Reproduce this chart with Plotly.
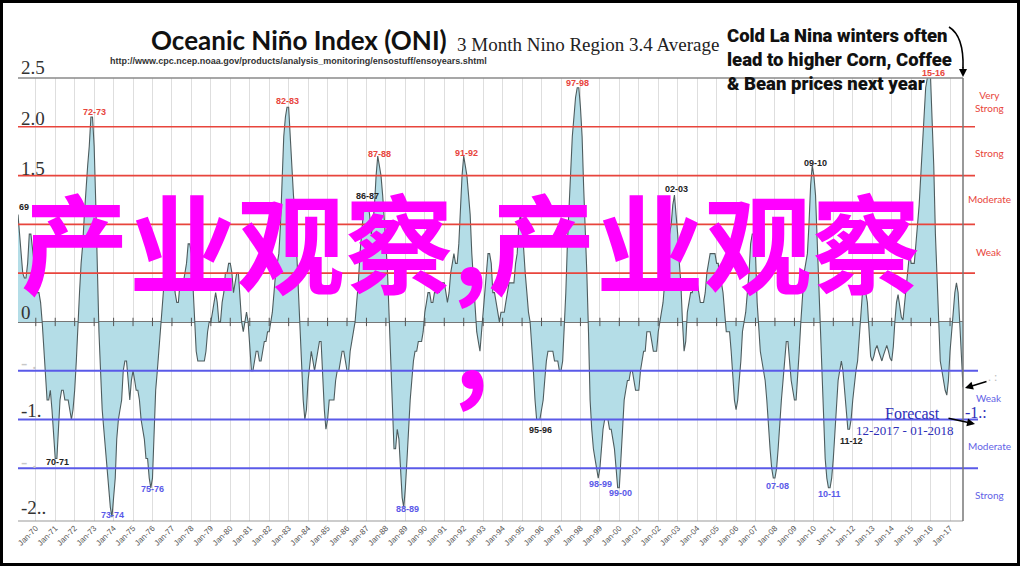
import plotly.graph_objects as go
import pandas as pd

# ---------------- data (ONI, 3-month running mean) ----------------
oni_1969 = [1.1, 0.9, 0.7, 0.5, 0.45, 0.45, 0.6, 0.9, 0.9, 0.75, 0.6]  # Feb..Dec 1969
oni_1970s = [
    0.5, 0.3, 0.3, 0.2, 0.0, -0.3, -0.6, -0.8, -0.8, -0.7, -0.9, -1.1,
    -1.4, -1.4, -1.1, -0.8, -0.7, -0.7, -0.8, -0.8, -0.8, -0.9, -1.0, -0.9,
    -0.7, -0.4, 0.0, 0.3, 0.6, 0.8, 1.1, 1.4, 1.6, 1.8, 2.1, 2.1,
    1.8, 1.2, 0.5, -0.1, -0.5, -0.9, -1.1, -1.3, -1.5, -1.7, -1.9, -2.0,
    -1.8, -1.6, -1.2, -1.0, -0.9, -0.8, -0.5, -0.4, -0.4, -0.6, -0.8, -0.6,
    -0.5, -0.6, -0.7, -0.7, -0.8, -1.0, -1.1, -1.2, -1.4, -1.4, -1.6, -1.7,
    -1.6, -1.2, -0.7, -0.5, -0.3, 0.0, 0.2, 0.4, 0.6, 0.8, 0.9, 0.8,
    0.6, 0.6, 0.3, 0.2, 0.2, 0.4, 0.4, 0.4, 0.5, 0.6, 0.8, 0.8,
    0.7, 0.4, 0.0, -0.3, -0.4, -0.4, -0.4, -0.4, -0.4, -0.3, -0.1, 0.0,
    0.0, 0.1, 0.2, 0.3, 0.2, 0.0, 0.0, 0.2, 0.3, 0.5, 0.5, 0.6,
]
oni_1980s = [
    0.6, 0.5, 0.3, 0.4, 0.5, 0.5, 0.3, 0.0, -0.1, 0.0, 0.1, 0.0,
    -0.3, -0.5, -0.5, -0.4, -0.3, -0.3, -0.4, -0.4, -0.3, -0.2, -0.2, -0.1,
    -0.1, 0.0, 0.1, 0.3, 0.5, 0.6, 0.7, 1.0, 1.5, 1.9, 2.1, 2.2,
    2.2, 1.9, 1.5, 1.3, 1.1, 0.7, 0.3, -0.1, -0.5, -0.8, -1.0, -0.9,
    -0.6, -0.4, -0.3, -0.4, -0.5, -0.4, -0.3, -0.2, -0.2, -0.6, -0.9, -1.1,
    -1.0, -0.8, -0.8, -0.8, -0.8, -0.6, -0.5, -0.5, -0.4, -0.3, -0.3, -0.4,
    -0.5, -0.5, -0.3, -0.2, -0.1, 0.0, 0.2, 0.4, 0.7, 0.9, 1.1, 1.2,
    1.2, 1.2, 1.1, 0.9, 1.0, 1.2, 1.5, 1.7, 1.6, 1.5, 1.3, 1.1,
    0.8, 0.5, 0.1, -0.3, -0.9, -1.3, -1.3, -1.1, -1.2, -1.5, -1.8, -1.9,
    -1.7, -1.4, -1.1, -0.8, -0.6, -0.4, -0.3, -0.3, -0.2, -0.2, -0.2, -0.1,
]
oni_1990s = [
    0.1, 0.2, 0.3, 0.3, 0.2, 0.2, 0.3, 0.3, 0.4, 0.3, 0.4, 0.4,
    0.4, 0.3, 0.2, 0.3, 0.5, 0.6, 0.7, 0.6, 0.6, 0.8, 1.2, 1.5,
    1.7, 1.6, 1.5, 1.3, 1.1, 0.7, 0.4, 0.1, -0.1, -0.2, -0.3, -0.1,
    0.1, 0.3, 0.5, 0.7, 0.7, 0.6, 0.3, 0.3, 0.2, 0.1, 0.0, 0.1,
    0.1, 0.1, 0.2, 0.3, 0.4, 0.4, 0.4, 0.4, 0.6, 0.7, 1.0, 1.1,
    1.0, 0.7, 0.5, 0.3, 0.1, 0.0, -0.2, -0.5, -0.8, -1.0, -1.0, -1.0,
    -0.9, -0.8, -0.6, -0.4, -0.3, -0.3, -0.3, -0.3, -0.4, -0.4, -0.4, -0.5,
    -0.5, -0.4, -0.1, 0.3, 0.8, 1.2, 1.6, 1.9, 2.1, 2.3, 2.4, 2.4,
    2.2, 1.9, 1.4, 1.0, 0.5, -0.1, -0.8, -1.1, -1.3, -1.4, -1.5, -1.6,
    -1.5, -1.3, -1.1, -1.0, -1.0, -1.0, -1.1, -1.1, -1.2, -1.3, -1.5, -1.7,
]
oni_2000s = [
    -1.7, -1.4, -1.1, -0.8, -0.7, -0.6, -0.6, -0.5, -0.5, -0.6, -0.7, -0.7,
    -0.7, -0.5, -0.4, -0.3, -0.3, -0.1, -0.1, -0.1, -0.2, -0.3, -0.3, -0.3,
    -0.1, 0.0, 0.1, 0.2, 0.4, 0.7, 0.8, 0.9, 1.0, 1.2, 1.3, 1.1,
    0.9, 0.6, 0.4, 0.0, -0.3, -0.2, 0.1, 0.2, 0.3, 0.3, 0.4, 0.4,
    0.4, 0.3, 0.2, 0.2, 0.2, 0.3, 0.5, 0.6, 0.7, 0.7, 0.7, 0.7,
    0.6, 0.6, 0.4, 0.4, 0.3, 0.1, -0.1, -0.1, -0.1, -0.3, -0.6, -0.8,
    -0.9, -0.8, -0.6, -0.4, -0.1, 0.0, 0.1, 0.3, 0.5, 0.8, 0.9, 0.9,
    0.7, 0.2, -0.1, -0.3, -0.4, -0.5, -0.6, -0.8, -1.1, -1.3, -1.5, -1.6,
    -1.6, -1.5, -1.3, -1.0, -0.8, -0.6, -0.4, -0.2, -0.2, -0.4, -0.6, -0.7,
    -0.8, -0.8, -0.6, -0.3, 0.0, 0.3, 0.5, 0.6, 0.7, 1.0, 1.4, 1.6,
]
oni_2010s = [
    1.5, 1.3, 0.9, 0.4, -0.1, -0.6, -1.0, -1.4, -1.6, -1.7, -1.7, -1.6,
    -1.4, -1.1, -0.8, -0.6, -0.5, -0.4, -0.5, -0.7, -0.9, -1.1, -1.1, -1.0,
    -0.8, -0.6, -0.5, -0.4, -0.2, 0.1, 0.3, 0.3, 0.3, 0.2, -0.1, -0.35,
    -0.4, -0.35, -0.28, -0.24, -0.3, -0.36, -0.4, -0.34, -0.28, -0.24, -0.3, -0.37,
    -0.4, -0.25, 0.0, 0.2, 0.28, 0.15, 0.05, 0.02, 0.2, 0.4, 0.6, 0.7,
    0.6, 0.6, 0.6, 0.8, 1.0, 1.2, 1.5, 1.8, 2.1, 2.4, 2.5, 2.6,
    2.5, 2.1, 1.6, 0.9, 0.4, -0.1, -0.4, -0.5, -0.6, -0.7, -0.75, -0.6,
    -0.3, -0.1, 0.1, 0.3, 0.4, 0.3, 0.0, -0.35, -0.67,
]
start_month = "1969-02-01"
tick_years = list(range(1970, 2018))
tick_labels = ["Jan-%02d" % (y % 100) for y in tick_years]

strength_levels_pos = [0.5, 1.0, 1.5, 2.0]
strength_levels_neg = [-0.5, -1.0, -1.5]
pos_names = ["Weak", "Moderate", "Strong", "Very<br>Strong"]
neg_names = ["Weak", "Moderate", "Strong"]

events_red = ["72-73", "82-83", "87-88", "91-92", "97-98", "15-16"]
events_black = ["69", "86-87", "02-03", "09-10", "70-71", "95-96", "11-12"]
events_blue = ["73-74", "75-76", "88-89", "98-99", "99-00", "07-08", "10-11"]

# ---------------- figure ----------------
values = oni_1969 + oni_1970s + oni_1980s + oni_1990s + oni_2000s + oni_2010s
dates = pd.date_range(start_month, periods=len(values), freq="MS")
tick_dates = [pd.Timestamp(year=y, month=1, day=1) for y in tick_years]

W, H = 1020, 566
L, R, T, B = 18, 57, 78, 45
PW, PH = W - L - R, H - T - B
YMIN, YMAX = -2.04, 2.5


def P(xp, yp):
    return (xp - L) / PW, 1 - (yp - T) / PH


fig = go.Figure()
fig.add_trace(go.Scatter(
    x=dates, y=values, mode="lines", fill="tozeroy",
    fillcolor="#B4DDE7", line=dict(color="#4e5c5e", width=1.1),
    hoverinfo="skip", showlegend=False,
))
fig.add_trace(go.Scatter(
    x=tick_dates, y=[0] * len(tick_dates), mode="markers",
    marker=dict(symbol="line-ns", size=6, line=dict(color="#555", width=1)),
    hoverinfo="skip", showlegend=False,
))

shapes = []
# white page inside a black image frame (paper background is black)
wx0, wy1 = P(3, 3)
wx1, wy0 = P(W - 3, H - 3)
shapes.append(dict(type="rect", xref="paper", yref="paper", x0=wx0, x1=wx1, y0=wy0, y1=wy1,
                   fillcolor="white", line=dict(width=0), layer="below"))
red_x1 = (975 - L) / PW
blue_x1 = (978 - L) / PW
for v in strength_levels_pos:
    shapes.append(dict(type="line", xref="paper", yref="y", x0=0, x1=red_x1, y0=v, y1=v,
                       line=dict(color="#E8453C", width=1.6), layer="above"))
for v in strength_levels_neg:
    shapes.append(dict(type="line", xref="paper", yref="y", x0=0, x1=blue_x1, y0=v, y1=v,
                       line=dict(color="#5A5AE8", width=2), layer="above"))
# frame of plot
shapes.append(dict(type="line", xref="paper", yref="paper", x0=0, x1=1, y0=1, y1=1,
                   line=dict(color="#8a8a8a", width=1.5)))
shapes.append(dict(type="line", xref="paper", yref="paper", x0=0, x1=1, y0=0, y1=0,
                   line=dict(color="#9a9a9a", width=1.2)))
shapes.append(dict(type="line", xref="paper", yref="paper", x0=1, x1=1, y0=0, y1=1,
                   line=dict(color="#777", width=1.5)))
# curved pointer from the note to the plot corner
cx0, cy0 = P(949, 27)
ccx, ccy = P(964, 36)
cx1, cy1 = P(963, 68)
shapes.append(dict(type="path", xref="paper", yref="paper",
                   path=f"M {cx0} {cy0} Q {ccx} {ccy} {cx1} {cy1}",
                   line=dict(color="black", width=1.6)))

ann = []


def text(xp, yp, s, size, color, family="Liberation Sans", xanchor="center",
         yanchor="middle", weight="normal", align="center"):
    x, y = P(xp, yp)
    ann.append(dict(xref="paper", yref="paper", x=x, y=y, text=s, showarrow=False,
                    xanchor=xanchor, yanchor=yanchor, align=align,
                    font=dict(size=size, color=color, family=family, weight=weight)))


# title block
text(149, 40, "Oceanic Niño Index (ONI)", 26, "#111", family="Lato", xanchor="left", weight="bold")
text(455, 44, "3 Month Nino Region 3.4 Average", 19, "#222", family="Liberation Serif", xanchor="left")
text(108, 61, "http://www.cpc.ncep.noaa.gov/products/analysis_monitoring/ensostuff/ensoyears.shtml",
     9, "#333", xanchor="left", weight="bold")
text(725, 60, "Cold La Nina winters often<br>lead to higher Corn, Coffee<br>& Bean prices next year",
     18.5, "#111", family="Roboto Black, Roboto", xanchor="left", weight=900, align="left")

# y labels (drawn as text above the lines)
for s, yp, col in [("2.5", 68, "#333"), ("2.0", 118, "#333"), ("1.5", 168, "#333"),
                   ("0", 312, "#333"), ("- .", 362, "#c8c8c8"), ("-1.", 410, "#333"),
                   ("- .", 461, "#c8c8c8"), ("-2..", 507, "#333")]:
    text(19, yp, s, 19, col, family="Liberation Serif", xanchor="left")

# strength labels on the right
for s, yp in zip(pos_names, [252, 199, 153, 102]):
    text(989, yp, s, 10, "#E8453C", family="Lato")
for s, yp in zip(neg_names, [398, 446, 495]):
    text(989, yp, s, 10, "#6262E6", family="Lato")

# event labels
red_pos = [(94, 112), (287, 101), (379, 154), (466, 153), (577, 83), (933, 73)]
black_pos = [(24, 207), (367, 196), (676, 189), (815, 163), (57, 462), (540, 430), (851, 441)]
blue_pos = [(112, 515), (152, 489), (407, 509), (600, 484), (620, 493), (777, 486), (829, 494)]
for s, (xp, yp) in zip(events_red, red_pos):
    text(xp, yp, s, 9, "#E8453C", weight="bold")
for s, (xp, yp) in zip(events_black, black_pos):
    text(xp, yp, s, 9, "#222", weight="bold")
for s, (xp, yp) in zip(events_blue, blue_pos):
    text(xp, yp, s, 9, "#5A5AE8", weight="bold")

# forecast annotation
text(912, 413, "Forecast", 16, "#2E2EB8", family="Liberation Serif")
text(976, 412, "-1.:", 16, "#2E2EB8", family="Liberation Serif")
text(905, 430, "12-2017 - 01-2018", 13, "#2E2EB8", family="Liberation Serif")
text(992, 377, ". :", 12, "#bbbbbb", family="Liberation Serif")


def arrow(hx, hy, tx, ty):
    x, y = P(hx, hy)
    ann.append(dict(xref="paper", yref="paper", x=x, y=y, ax=tx - hx, ay=ty - hy,
                    text="", showarrow=True, arrowhead=2, arrowsize=1, arrowwidth=1.6,
                    arrowcolor="black"))


arrow(975, 424, 947, 418)
arrow(965, 388, 988, 381)
arrow(963, 77, 963, 66)

# watermark
text(470, 239, "产业观察,产业观察", 108, "#FF00FF", family="Noto Sans CJK SC", weight="bold")
text(471, 342, ",", 108, "#FF00FF", family="Noto Sans CJK SC", weight="bold")

fig.update_layout(
    width=W, height=H, margin=dict(l=L, r=R, t=T, b=B),
    paper_bgcolor="black", plot_bgcolor="white",
    showlegend=False, shapes=shapes, annotations=ann,
    xaxis=dict(type="date", range=[dates[0], dates[-1]], tickvals=tick_dates,
               ticktext=tick_labels, tickangle=-45, tickfont=dict(size=8, color="#555",
                                                                   family="Liberation Sans"),
               showgrid=True, gridcolor="#dedede", gridwidth=1, zeroline=False,
               showline=False, ticks=""),
    yaxis=dict(range=[YMIN, YMAX], showticklabels=False, showgrid=False,
               zeroline=True, zerolinecolor="#777", zerolinewidth=1.5, showline=False),
)

fig.write_html("out.html", config={"displayModeBar": False},
               post_script="document.body.style.margin='0px';document.body.style.overflow='hidden';")
